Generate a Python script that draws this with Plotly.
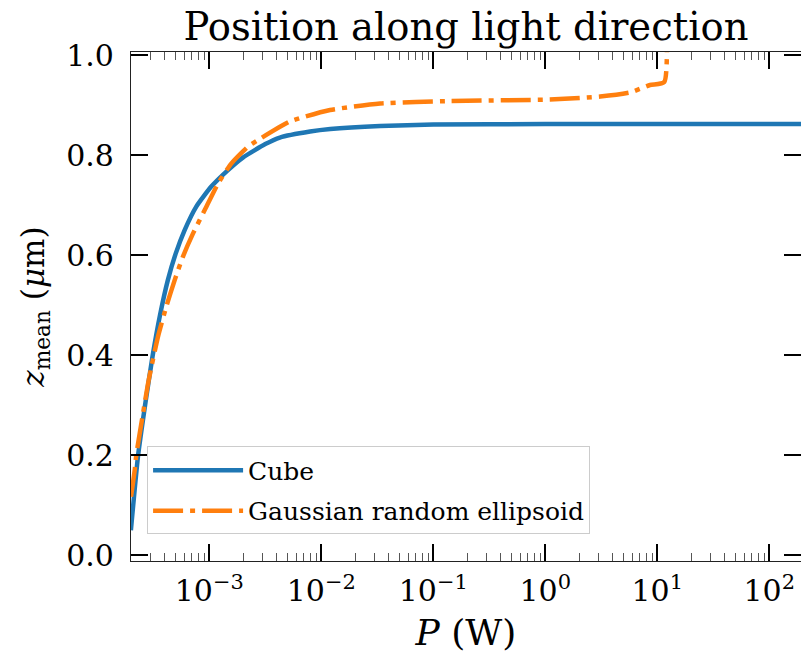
import numpy as np
import plotly.graph_objects as go

# ---- data ----
cube_logP = [-3.70, -3.637, -3.57, -3.505, -3.44, -3.37, -3.30, -3.22, -3.116,
             -2.982, -2.833, -2.70, -2.50, -2.37, -2.10, -1.92, -1.475,
             -1.0, 0.0, 1.0, 2.301]
cube_z = [0.05, 0.197, 0.305, 0.40, 0.48, 0.55, 0.603, 0.65, 0.697,
          0.737, 0.77, 0.795, 0.822, 0.835, 0.847, 0.852, 0.858,
          0.861, 0.862, 0.862, 0.862]

gre_logP = [-3.699, -3.666, -3.652, -3.592, -3.541, -3.458, -3.384, -3.309,
            -3.235, -3.146, -3.041, -2.922, -2.804, -2.654, -2.565, -2.28, -1.922,
            -1.475, -0.85, 0.04, 0.49, 0.756, 0.935, 1.062, 1.065]
gre_z = [0.117, 0.17, 0.20, 0.283, 0.35, 0.437, 0.497, 0.55,
         0.597, 0.643, 0.69, 0.743, 0.783, 0.817, 0.83, 0.867, 0.89,
         0.903, 0.908, 0.911, 0.917, 0.925, 0.94, 0.946, 1.2]

cube_P = [10 ** v for v in cube_logP]
gre_P = [10 ** v for v in gre_logP]

xtick_vals = [1e-3, 1e-2, 1e-1, 1e0, 1e1, 1e2]
xtick_text = ["10<sup>\u22123</sup>", "10<sup>\u22122</sup>", "10<sup>\u22121</sup>",
              "10<sup>0</sup>", "10<sup>1</sup>", "10<sup>2</sup>"]
xminor_vals = [k * 10.0 ** n for n in range(-4, 3) for k in range(2, 10)]
ytick_vals = [0.0, 0.2, 0.4, 0.6, 0.8, 1.0]

FONT = "DejaVu Serif"

fig = go.Figure()
fig.add_trace(go.Scatter(x=cube_P, y=cube_z, mode="lines", name="Cube", legendgroup="a",
                         line=dict(color="#1f77b4", width=4.5, shape="spline", smoothing=0.5)))
fig.add_trace(go.Scatter(x=gre_P, y=gre_z, mode="lines", name="Gaussian random ellipsoid",
                         legendgroup="b",
                         line=dict(color="#ff7f0e", width=4.5, dash="30px,7px,5px,7px",
                                   shape="spline", smoothing=0.5)))

fig.update_layout(
    width=801, height=659, autosize=False,
    margin=dict(l=131, r=0, t=52, b=98),
    paper_bgcolor="white", plot_bgcolor="white",
    font=dict(family=FONT, color="black", size=30),
    title=dict(text="Position along light direction", font=dict(size=38.5, family=FONT),
               x=0.5, xref="paper", xanchor="center",
               y=1 - 27 / 659, yref="container", yanchor="middle"),
    showlegend=True,
    legend=dict(x=0.024, y=0.225, xanchor="left", yanchor="top",
                bgcolor="rgba(255,255,255,0.8)", bordercolor="#cccccc", borderwidth=1,
                font=dict(size=25, family=FONT), itemwidth=90, tracegroupgap=5),
)

fig.update_xaxes(
    type="log", range=[np.log10(2e-4), 2.283],
    tickvals=xtick_vals, ticktext=xtick_text,
    ticks="inside", ticklen=17, tickwidth=2, tickcolor="black",
    minor=dict(tickvals=xminor_vals, ticks="inside", ticklen=8, tickwidth=1,
               tickcolor="#555555", showgrid=False),
    showline=True, linecolor="#222222", linewidth=1.2, mirror="allticks",
    showgrid=False, zeroline=False,
    tickfont=dict(size=30, family=FONT),
    ticklabelstandoff=3,
    title=dict(text="<i>P</i> (W)", font=dict(size=36, family=FONT), standoff=12),
)
fig.update_yaxes(
    range=[-0.0115, 1.006],
    tickvals=ytick_vals, tickformat=".1f",
    ticks="inside", ticklen=17, tickwidth=2, tickcolor="black",
    showline=True, linecolor="#222222", linewidth=1.2, mirror="allticks",
    showgrid=False, zeroline=False,
    tickfont=dict(size=30, family=FONT),
    ticklabelstandoff=10,
    title=dict(text="<i>z</i><sub>mean</sub> (<i>\u03bc</i>m)", font=dict(size=31, family=FONT),
               standoff=12),
)

fig.write_html("out.html")
